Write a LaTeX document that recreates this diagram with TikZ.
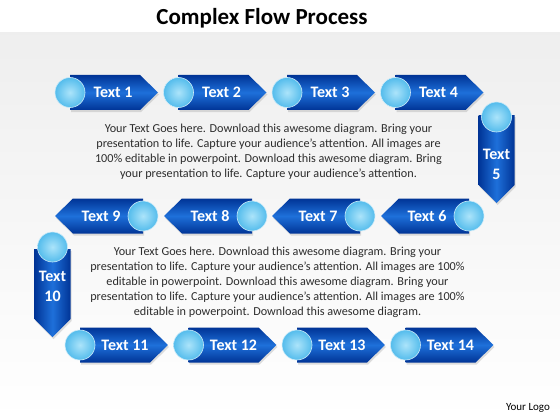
\documentclass[tikz,border=0pt]{standalone}
\usepackage{fontspec}
\setmainfont{Carlito}
\usetikzlibrary{shadows}
\definecolor{flowDark}{RGB}{0,52,150}
\definecolor{flowLight}{RGB}{30,112,218}
\definecolor{ballIn}{RGB}{172,228,250}
\definecolor{ballOut}{RGB}{84,188,236}
\definecolor{bodyText}{RGB}{45,45,45}
\colorlet{background}{white}
\tikzset{
  flowshadow/.style={drop shadow={opacity=0.25, shadow xshift=1pt, shadow yshift=-2pt}},
  horizbody/.style={flowshadow, top color=flowDark, bottom color=flowDark, middle color=flowLight},
  vertbody/.style={flowshadow, left color=flowDark, right color=flowDark, middle color=flowLight},
  flowlabel/.style={inner sep=0pt, text=white, align=center,
    font=\fontsize{16}{20}\selectfont\bfseries},
  ball/.style={circle, minimum size=30pt, inner sep=0pt,
    inner color=ballIn, outer color=ballOut, draw=white!70!ballOut, line width=0.6pt},
  blurb/.style={align=center, text=bodyText, font=\fontsize{12.2}{15}\selectfont}
}
% arrow bodies, placed at the centre of their ball
\newcommand{\flowEast}[1]{\path[horizbody,shift={#1}] (0,-17.5) -- (70,-17.5) -- (88,0) -- (70,17.5) -- (0,17.5) -- cycle;}
\newcommand{\flowWest}[1]{\path[horizbody,shift={#1}] (0,-17.5) -- (-70,-17.5) -- (-88,0) -- (-70,17.5) -- (0,17.5) -- cycle;}
\newcommand{\flowSouth}[1]{\path[vertbody,shift={#1}] (-18,0) -- (18,0) -- (18,70) -- (0,88) -- (-18,70) -- cycle;}
\begin{document}
\begin{tikzpicture}[x=1pt,y=-1pt]
\useasboundingbox (0,0) rectangle (560,420);
\fill[background] (0,0) rectangle (560,420);
\shade[top color=gray!13, bottom color=background] (0,33) rectangle (560,420);% grey band

\node[font=\fontsize{23}{27}\selectfont\bfseries] (title) at (262,18) {Complex Flow Process};

% first row, to the right
\flowEast{(70,92.5)}
\flowEast{(178.5,92.5)}
\flowEast{(287,92.5)}
\flowEast{(395.5,92.5)}
\node[flowlabel] (t1) at (113,92.5) {Text 1};
\node[flowlabel] (t2) at (221.5,92.5) {Text 2};
\node[flowlabel] (t3) at (330,92.5) {Text 3};
\node[flowlabel] (t4) at (438.5,92.5) {Text 4};
\node[ball] (b1) at (70,92.5) {};
\node[ball] (b2) at (178.5,92.5) {};
\node[ball] (b3) at (287,92.5) {};
\node[ball] (b4) at (395.5,92.5) {};

% going down on the right
\flowSouth{(496.5,115)}
\node[flowlabel] (t5) at (496.5,164) {Text\\5};
\node[ball] (b5) at (496.5,117) {};

% second row, to the left
\flowWest{(469,216)}
\flowWest{(360,216)}
\flowWest{(252,216)}
\flowWest{(143,216)}
\node[flowlabel] (t6) at (427,216) {Text 6};
\node[flowlabel] (t7) at (318,216) {Text 7};
\node[flowlabel] (t8) at (210,216) {Text 8};
\node[flowlabel] (t9) at (101,216) {Text 9};
\node[ball] (b6) at (469,216) {};
\node[ball] (b7) at (360,216) {};
\node[ball] (b8) at (252,216) {};
\node[ball] (b9) at (143,216) {};

% going down on the left
\flowSouth{(52.5,249)}
\node[flowlabel] (t10) at (52.5,286) {Text\\10};
\node[ball] (b10) at (52.5,247) {};

% third row, to the right
\flowEast{(80,345)}
\flowEast{(188.5,345)}
\flowEast{(297,345)}
\flowEast{(405.5,345)}
\node[flowlabel] (t11) at (125,345) {Text 11};
\node[flowlabel] (t12) at (233.5,345) {Text 12};
\node[flowlabel] (t13) at (342,345) {Text 13};
\node[flowlabel] (t14) at (450.5,345) {Text 14};
\node[ball] (b11) at (80,345) {};
\node[ball] (b12) at (188.5,345) {};
\node[ball] (b13) at (297,345) {};
\node[ball] (b14) at (405.5,345) {};

\node[blurb] (note1) at (268.5,151.5) {Your Text Goes here. Download this awesome diagram. Bring your\\
  presentation to life. Capture your audience’s attention. All images are\\
  100\% editable in powerpoint. Download this awesome diagram. Bring\\
  your presentation to life. Capture your audience’s attention.};
\node[blurb] (note2) at (277.5,282.5) {Your Text Goes here. Download this awesome diagram. Bring your\\
  presentation to life. Capture your audience’s attention. All images are 100\%\\
  editable in powerpoint. Download this awesome diagram. Bring your\\
  presentation to life. Capture your audience’s attention. All images are 100\%\\
  editable in powerpoint. Download this awesome diagram.};

\node[font=\fontsize{11}{13}\selectfont] (logo) at (528,408) {Your Logo};
\end{tikzpicture}
\end{document}
